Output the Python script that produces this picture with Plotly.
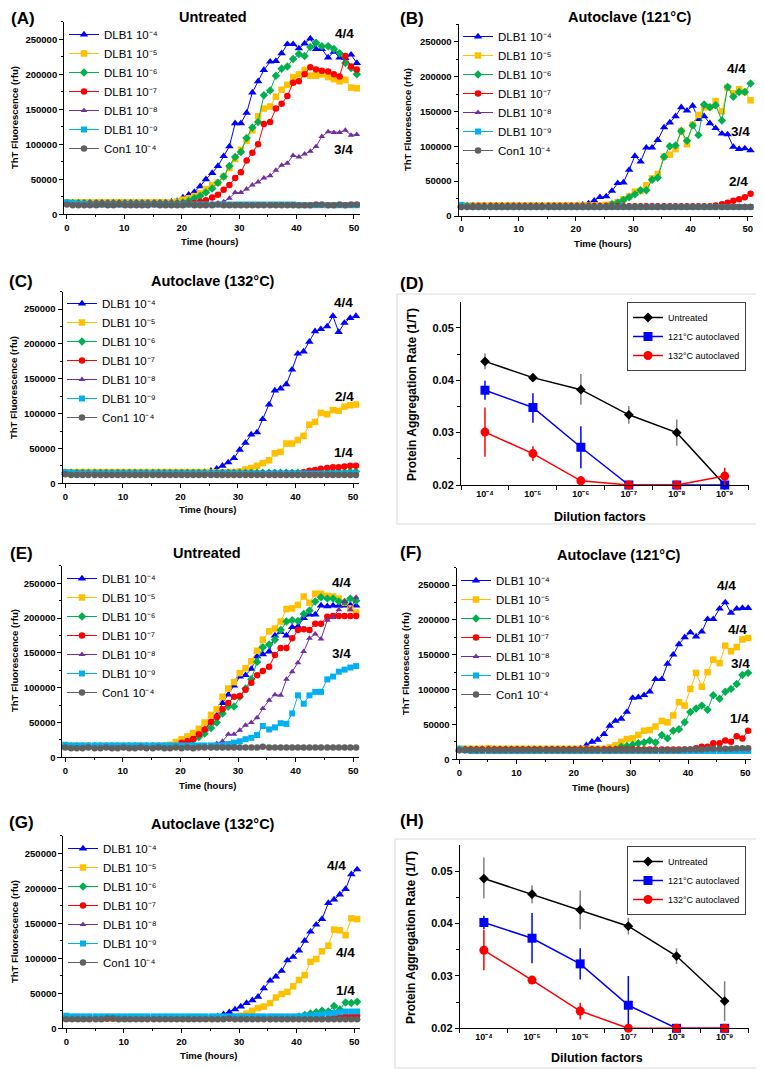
import plotly.graph_objects as go

# The page body adds an 8 px margin, so the figure is made 8 px smaller and
# every position below (given in window pixels) is converted relative to it.
WIN_W, WIN_H = 764, 1069
OFF = 8
W, H = WIN_W - OFF, WIN_H - OFF
FONT = "Liberation Sans, Arial, sans-serif"

# ---------------- data ----------------
TIME_H = [0, 1, 2, 3, 4, 5.1, 6.1, 7.1, 8.1, 9.1,
          10.1, 11.1, 12.1, 13.1, 14.1, 15.2, 16.2, 17.2, 18.2, 19.2,
          20.2, 21.2, 22.2, 23.2, 24.2, 25.3, 26.3, 27.3, 28.3, 29.3,
          30.3, 31.3, 32.3, 33.3, 34.3, 35.4, 36.4, 37.4, 38.4, 39.4,
          40.4, 41.4, 42.4, 43.4, 44.4, 45.5, 46.5, 47.5, 48.5, 49.5,
          50.5]

SERIES_NAMES = ["DLB1 10⁻⁴", "DLB1 10⁻⁵", "DLB1 10⁻⁶", "DLB1 10⁻⁷",
                "DLB1 10⁻⁸", "DLB1 10⁻⁹", "Con1 10⁻⁴"]

# ThT fluorescence values, in thousands of rfu
# ---- (A) Untreated ----
A_B4 = [17,16,16,16,16,16,16,16,16,16, 16,16,16,16,16,16,17,17,18,19,
        24,28,32,40,50,59,69,83,97,130, 130,145,174,190,206,218,219,230,243,243,
        237,244,251,236,236,224,232,224,223,228, 216]
A_B5 = [17,17,17,17,17,17,17,17,17,17, 17,17,17,17,17,17,17,17,17,18,
        21,23,26,30,36,42,45,54,66,79, 92,105,120,140,151,154,168,178,185,196,
        200,206,198,198,200,196,193,190,192,181, 180]
A_B6 = [16,16,16,16,16,16,16,16,16,16, 16,16,16,16,16,16,16,16,16,16,
        17,19,23,26,31,37,45,54,69,82, 89,109,124,132,170,177,198,208,211,222,
        229,226,239,245,240,240,236,230,216,209, 200]
A_B7 = [15,15,15,15,15,15,15,15,15,15, 15,15,15,15,15,15,15,15,15,15,
        15,15,16,18,20,24,28,35,42,52, 60,77,88,100,129,132,151,158,169,188,
        190,200,210,207,205,204,200,197,226,211, 207]
A_B8 = [15,15,15,15,15,15,15,15,15,15, 15,15,15,15,15,15,15,15,15,15,
        15,15,15,15,15,15,16,18,23,31, 31,36,42,46,52,55,63,70,73,84,
        82,86,90,97,111,118,117,117,120,113, 114]
A_B9 = [17,16,15,15,14,14,14,14,14,14, 14,14,14,14,14,14,14,14,14,14,
        14,14,14,14,14,14,14,14,14,14, 14,14,14,14,14,14,14,14,14,14,
        13,13,13,13,13,13,13,13,13,13, 13]
A_CON = [14,13,13,13,13,13,14,13,13,14, 13,13,13,13,13,14,13,13,13,13,
         13,14,13,13,13,13,14,13,13,13, 13,13,13,13,13,13,13,13,13,13,
         13,13,13,14,14,13,13,14,13,14, 14]

# ---- (B) Autoclave 121 C ----
B_B4 = [15,15,15,15,15,15,15,15,15,15, 15,15,15,15,15,15,15,15,15,15,
        15,16,18,22,27,28,36,47,48,66, 86,78,98,98,109,127,134,143,156,151,
        158,139,143,133,126,118,117,99,96,97, 94]
B_B5 = [15,15,15,15,15,15,15,15,15,15, 15,15,15,15,15,15,15,15,15,15,
        15,15,15,15,15,16,17,20,24,28, 35,36,44,54,60,85,88,96,122,103,
        131,145,156,156,165,150,184,176,182,178, 166]
B_B6 = [14,14,14,14,14,14,14,14,14,14, 14,14,14,14,14,14,14,14,14,14,
        14,14,14,14,14,14,17,19,23,27, 31,37,37,52,55,85,100,101,122,108,
        130,116,160,156,159,137,185,171,178,178, 190]
B_B7 = [14,14,14,14,14,14,14,14,14,14, 14,14,14,14,14,14,14,14,14,14,
        14,14,14,14,14,14,14,14,14,14, 14,14,14,14,14,14,14,14,14,14,
        14,14,14,14,15,17,19,22,24,27, 32]
B_B8 = [14,14,14,14,14,14,14,14,14,14, 14,14,14,14,14,14,14,14,14,14,
        14,14,14,14,14,14,14,14,14,14, 14,14,14,14,14,14,14,14,14,14,
        14,14,14,14,14,14,14,14,14,14, 14]
B_B9 = [16,14,13,13,13,13,13,13,13,13, 13,13,13,13,13,13,13,13,13,13,
        13,13,13,13,13,13,13,13,13,13, 13,13,13,13,13,13,13,13,13,13,
        13,13,13,13,13,13,13,13,13,13, 13]
B_CON = [13,13,13,13,13,13,13,13,13,13, 13,13,13,13,13,13,13,13,13,13,
         13,13,13,13,13,13,13,13,13,13, 13,13,13,13,13,13,13,13,13,13,
         13,13,13,13,13,13,13,13,13,13, 13]

# ---- (C) Autoclave 132 C ----
C_B4 = [15,15,15,15,15,15,15,15,15,15, 15,15,15,15,15,15,15,15,15,15,
        15,15,15,15,16,18,21,25,30,36, 48,58,70,73,92,113,133,136,142,163,
        186,189,203,218,221,225,240,217,230,237, 240]
C_B5 = [16,16,16,16,16,16,16,16,16,16, 16,16,16,16,16,16,16,16,16,16,
        16,16,16,16,16,16,16,16,16,16, 17,20,22,25,29,33,43,45,57,57,
        62,68,84,88,101,99,105,104,110,112, 113]
C_B6 = [15,15,15,15,15,15,15,15,15,15, 15,15,15,15,15,15,15,15,15,15,
        15,15,15,15,15,15,15,15,15,15, 15,15,15,15,15,15,15,15,15,15,
        15,15,15,15,15,15,16,16,16,17, 17]
C_B7 = [14,14,14,14,14,14,14,14,14,14, 14,14,14,14,14,14,14,14,14,14,
        14,14,14,14,14,14,14,14,14,14, 14,14,14,14,14,14,14,14,14,14,
        14,16,18,19,21,22,23,23,24,25, 25]
C_B8 = [14,14,14,14,14,14,14,14,14,14, 14,14,14,14,14,14,14,14,14,14,
        14,14,14,14,14,14,14,14,14,14, 14,14,14,14,14,14,14,14,14,14,
        14,14,14,14,14,14,14,14,14,14, 14]
C_B9 = [16,15,14,14,14,14,14,14,14,14, 14,14,14,14,14,14,14,14,14,14,
        14,14,14,14,14,14,14,14,14,14, 14,14,14,14,14,14,14,14,14,14,
        14,14,14,14,14,14,14,14,14,14, 14]
C_CON = [13,12,12,12,12,12,12,12,12,12, 12,12,12,12,12,12,12,12,12,12,
         12,12,12,12,12,12,12,12,12,12, 12,12,12,12,12,12,12,12,12,12,
         12,12,12,12,12,12,12,12,12,12, 12]

# ---- (E) Untreated ----
E_B4 = [16,16,16,16,16,16,16,16,16,16, 16,16,16,16,16,16,16,16,16,16,
        21,24,29,33,40,50,60,78,90,103, 116,118,127,145,148,152,175,180,175,187,
        188,200,205,205,218,217,218,218,218,219, 218]
E_B5 = [16,16,16,16,16,16,16,16,16,16, 16,16,16,16,16,16,16,16,18,22,
        26,30,35,41,50,61,69,87,99,108, 121,128,138,153,169,181,185,195,213,214,
        219,231,222,235,235,232,231,228,222,214, 208]
E_B6 = [16,16,16,16,16,16,16,16,16,16, 16,16,16,16,16,16,16,16,16,16,
        16,21,25,29,34,42,50,63,73,73, 87,99,112,137,158,162,169,183,195,197,
        196,206,211,224,230,228,228,224,223,228, 225]
E_B7 = [15,15,15,15,15,15,15,15,15,15, 15,15,15,15,15,15,15,15,15,15,
        21,23,26,33,40,51,58,69,78,87, 88,97,107,118,124,130,147,157,157,171,
        183,184,183,192,192,202,203,203,203,203, 203]
E_B8 = [14,14,14,14,14,14,14,14,14,14, 14,14,14,14,14,14,14,14,14,14,
        14,14,14,14,14,14,20,23,33,33, 39,46,50,57,70,82,90,89,112,123,
        136,152,171,177,170,197,201,212,224,212, 230]
E_B9 = [18,17,17,17,17,17,17,17,17,17, 17,17,17,17,17,17,17,17,17,17,
        17,17,17,17,17,17,17,17,19,21, 23,26,28,32,45,40,43,49,48,63,
        89,77,89,94,94,112,116,123,126,129, 131]
E_CON = [14,13,13,13,14,13,13,14,13,13, 14,13,13,14,13,13,14,13,13,14,
         13,14,13,14,14,14,14,14,14,14, 14,14,14,14,15,14,14,14,14,14,
         14,14,14,14,14,14,14,14,14,14, 14]

# ---- (F) Autoclave 121 C ----
F_B4 = [14,14,14,14,14,14,14,14,14,14, 14,14,14,14,14,14,14,14,14,14,
        14,16,20,25,28,36,48,55,58,68, 88,89,92,97,115,115,137,150,165,175,
        182,176,183,201,201,216,225,210,216,217, 217]
F_B5 = [15,15,15,15,15,16,15,15,15,15, 15,15,15,15,15,15,15,15,15,15,
        15,15,15,15,15,15,17,20,25,29, 30,35,41,42,47,55,53,63,82,77,
        101,124,104,125,143,138,163,155,161,172, 174]
F_B6 = [14,14,14,14,14,14,14,14,14,14, 14,14,14,14,14,14,14,14,14,14,
        14,14,14,14,14,14,14,14,18,19, 21,23,24,27,24,35,30,41,43,53,
        68,73,77,71,92,87,97,101,108,121, 124]
F_B7 = [14,14,14,14,14,14,14,14,14,14, 14,14,14,14,14,14,14,14,14,14,
        14,14,14,14,14,14,14,14,14,14, 14,14,14,14,14,14,14,14,14,14,
        14,16,18,18,23,23,27,25,33,30, 41]
F_B8 = [13,13,13,13,13,13,13,13,13,13, 13,13,13,13,13,13,13,13,13,13,
        13,13,13,13,13,13,13,13,13,13, 13,13,13,13,13,13,13,13,13,13,
        13,13,13,13,13,13,13,13,13,13, 13]
F_B9 = [15,13,12,12,12,12,12,12,12,12, 12,12,12,12,12,12,12,12,12,12,
        12,12,12,12,12,12,12,12,12,12, 12,12,12,12,12,12,12,12,12,12,
        12,12,12,12,12,12,12,12,12,12, 12]
F_CON = [13,13,13,13,13,13,13,13,13,13, 13,13,13,13,13,13,13,13,13,13,
         13,13,13,13,13,13,13,13,13,13, 13,13,13,13,13,13,13,13,13,14,
         14,14,14,15,15,15,15,15,16,16, 16]

# ---- (G) Autoclave 132 C ----
G_B4 = [16,15,15,15,15,15,15,15,15,15, 15,15,15,15,15,15,15,15,15,15,
        15,15,15,15,15,15,17,20,23,27, 31,36,40,45,57,68,74,82,97,102,
        111,125,138,148,156,179,184,191,199,220, 227]
G_B5 = [14,14,14,14,14,14,14,14,14,14, 14,14,14,14,14,14,14,14,14,14,
        14,14,14,14,14,14,15,15,15,16, 18,21,25,29,31,36,44,49,52,60,
        69,76,95,99,110,118,141,140,133,157, 156]
G_B6 = [15,15,15,15,15,15,15,15,15,15, 15,15,15,15,15,15,15,15,15,15,
        15,15,15,15,15,15,15,15,15,15, 15,15,15,15,15,15,15,15,15,15,
        17,19,21,23,25,24,32,27,37,36, 38]
G_B7 = [14,14,14,14,14,14,14,14,14,14, 14,14,14,14,14,14,14,14,14,14,
        14,14,14,14,14,14,14,14,14,14, 14,14,14,14,14,14,14,14,14,14,
        14,14,14,14,14,14,15,16,17,18, 18]
G_B8 = [14,14,14,14,14,14,14,14,14,14, 14,14,14,14,14,14,14,14,14,14,
        14,14,14,14,14,14,14,14,14,14, 14,14,14,14,14,14,14,14,14,14,
        14,14,14,14,14,14,14,14,14,14, 14]
G_B9 = [18,17,17,17,17,17,17,17,17,17, 17,17,17,17,17,17,17,17,17,17,
        17,17,17,17,17,17,17,17,17,17, 17,17,17,17,17,17,17,17,17,17,
        17,18,18,19,20,21,22,23,24,24, 24]
G_CON = [13,13,13,13,13,13,13,14,14,13, 13,13,13,13,13,13,13,13,13,13,
         13,13,13,13,13,13,13,13,14,13, 13,13,13,13,13,13,13,13,13,13,
         13,13,13,13,13,13,13,13,13,13, 13]

# replicate-positive labels: (text, hour, rfu in thousands)
A_LABELS = [("4/4", 48.4, 258), ("3/4", 48.1, 92)]
B_LABELS = [("4/4", 48.1, 212), ("3/4", 48.7, 121), ("2/4", 48.4, 49)]
C_LABELS = [("4/4", 48.3, 260), ("2/4", 48.6, 124), ("1/4", 48.3, 44)]
E_LABELS = [("4/4", 48.0, 251), ("3/4", 48.0, 149)]
F_LABELS = [("4/4", 46.7, 250), ("4/4", 48.7, 186), ("3/4", 49.2, 138), ("1/4", 49.0, 59)]
G_LABELS = [("4/4", 46.9, 233), ("4/4", 48.4, 109), ("1/4", 48.4, 54)]

# summary panels
DILUTIONS = ["10⁻⁴", "10⁻⁵", "10⁻⁶", "10⁻⁷", "10⁻⁸", "10⁻⁹"]
RATE_NAMES = ["Untreated", "121°C autoclaved", "132°C autoclaved"]
D_UNTREATED = [0.0436, 0.0405, 0.0382, 0.0334, 0.0300, 0.0200]
D_UNTREATED_EP = [0.0015, 0.0007, 0.0030, 0.0017, 0.0025, 0]
D_UNTREATED_EM = [0.0015, 0.0007, 0.0029, 0.0017, 0.0025, 0]
D_121 = [0.0381, 0.0348, 0.0272, 0.0200, 0.0200, 0.0200]
D_121_EP = [0.0018, 0.0027, 0.0040, 0, 0, 0]
D_121_EM = [0.0018, 0.0029, 0.0040, 0, 0, 0]
D_132 = [0.0301, 0.0260, 0.0208, 0.0200, 0.0200, 0.0217]
D_132_EP = [0.0047, 0.0014, 0.0009, 0, 0, 0.0016]
D_132_EM = [0.0047, 0.0014, 0.0008, 0, 0, 0.0017]

H_UNTREATED = [0.0486, 0.0456, 0.0426, 0.0395, 0.0338, 0.0252]
H_UNTREATED_EP = [0.0040, 0.0017, 0.0037, 0.0016, 0.0015, 0.0038]
H_UNTREATED_EM = [0.0038, 0.0017, 0.0037, 0.0016, 0.0015, 0.0038]
H_121 = [0.0402, 0.0372, 0.0323, 0.0244, 0.0200, 0.0200]
H_121_EP = [0.0013, 0.0048, 0.0030, 0.0056, 0, 0]
H_121_EM = [0.0013, 0.0048, 0.0030, 0.0044, 0, 0]
H_132 = [0.0349, 0.0292, 0.0233, 0.0200, 0.0200, 0.0200]
H_132_EP = [0.0039, 0.0003, 0.0016, 0, 0, 0]
H_132_EM = [0.0038, 0.0003, 0.0016, 0, 0, 0]

# ---------------- styles & layout geometry (window pixels) ----------------
TS_STYLE = [("#0000FF", "triangle-up", 7.5), ("#FFC000", "square", 6.5),
            ("#00B050", "diamond", 6.5), ("#FF0000", "circle", 6.5),
            ("#7030A0", "triangle-up", 6), ("#00B0F0", "square", 6),
            ("#606060", "circle", 6.5)]
RATE_STYLE = [("#000000", "diamond", 7.5, "#808080"), ("#0000FF", "square", 9, "#0000FF"),
              ("#FF0000", "circle", 9, "#FF0000")]

# y given as None means: pinned to the very top of the figure
# (number, letter, title, series, labels, plot box l,r,t,b, legend x,y, title xy, xt xy, yt xy, letter xy)
TS_PANELS = [
    (1, "(A)", "Untreated", [A_B4, A_B5, A_B6, A_B7, A_B8, A_B9, A_CON], A_LABELS,
     (64.1, 359.7, 21.8, 214.3), (64, 20), (213, None), (209, 241), (14, 118), (23, None)),
    (2, "(B)", "Autoclave (121°C)", [B_B4, B_B5, B_B6, B_B7, B_B8, B_B9, B_CON], B_LABELS,
     (458.5, 753.4, 24.3, 216.0), (458, 22), (630, None), (602, 243), (407, 120), (412, None)),
    (3, "(C)", "Autoclave (132°C)", [C_B4, C_B5, C_B6, C_B7, C_B8, C_B9, C_CON], C_LABELS,
     (62.5, 358.8, 291.6, 483.3), (62, 289), (213, 281), (207, 510), (14, 388), (21, 281)),
    (5, "(E)", "Untreated", [E_B4, E_B5, E_B6, E_B7, E_B8, E_B9, E_CON], E_LABELS,
     (62.4, 359.0, 565.9, 757.3), (62, 564), (207, 553), (207, 785), (14, 661), (21, 553)),
    (6, "(F)", "Autoclave (121°C)", [F_B4, F_B5, F_B6, F_B7, F_B8, F_B9, F_CON], F_LABELS,
     (456.5, 751.0, 567.6, 759.3), (456, 566), (619, 555), (600, 787), (405, 664), (411, 552)),
    (7, "(G)", "Autoclave (132°C)", [G_B4, G_B5, G_B6, G_B7, G_B8, G_B9, G_CON], G_LABELS,
     (63.4, 360.0, 835.8, 1028.3), (63, 834), (213, 824), (208, 1055), (14, 932), (21, 822)),
]

RATE_PANELS = [
    (4, "(D)", [(D_UNTREATED, D_UNTREATED_EP, D_UNTREATED_EM), (D_121, D_121_EP, D_121_EM),
                (D_132, D_132_EP, D_132_EM)],
     (461.0, 748.7, 301.7, 485.0), (746, 302), (600, 517), (412, 395), (412, 283),
     (397, 762, 294, 524)),
    (8, "(H)", [(H_UNTREATED, H_UNTREATED_EP, H_UNTREATED_EM), (H_121, H_121_EP, H_121_EM),
                (H_132, H_132_EP, H_132_EM)],
     (459.8, 748.7, 845.0, 1028.3), (746, 846), (597, 1058), (411, 937), (412, 820),
     (395, 763, 839, 1068)),
]


def px(xp):
    return (xp - OFF) / W


def py(yp):
    return 1 - (yp - OFF) / H


def axname(n):
    return "" if n == 1 else str(n)


fig = go.Figure()
layout = dict(width=W, height=H,
              margin=dict(l=0, r=0, t=0, b=0, pad=0, autoexpand=False),
              paper_bgcolor="white", plot_bgcolor="white", showlegend=True,
              font=dict(family=FONT, color="black"))
annotations = []
shapes = []

BLACK_AXIS = dict(showline=True, linecolor="black", linewidth=1, showgrid=False,
                  zeroline=False, ticks="outside", tickcolor="black", tickwidth=1,
                  automargin=False)


def text_ann(txt, xp, yp, size, bold=True, angle=0):
    if yp is None:
        yv, yanc = 1.0, "top"
    else:
        yv, yanc = py(yp), "middle"
    annotations.append(dict(text=txt, x=px(xp), y=yv, xref="paper", yref="paper",
                            showarrow=False, xanchor="center", yanchor=yanc,
                            textangle=angle, borderpad=0,
                            font=dict(family=FONT, size=size, color="black",
                                      weight="bold" if bold else "normal")))


for (n, letter, title, series, labels, box, leg, tpos, xtpos, ytpos, lpos) in TS_PANELS:
    s = axname(n)
    l, r, t, b = box
    legname = "legend" + ("" if n == 1 else str(n))
    for name, vals, (col, sym, size) in zip(SERIES_NAMES, series, TS_STYLE):
        fig.add_trace(go.Scatter(
            x=TIME_H[:len(vals)], y=[v * 1000 for v in vals], name=name,
            mode="lines+markers", xaxis="x" + s, yaxis="y" + s, legend=legname,
            line=dict(color=col, width=1),
            marker=dict(color=col, symbol=sym, size=size, line=dict(width=0)),
            cliponaxis=False))
    layout["xaxis" + s] = dict(BLACK_AXIS, domain=[px(l), px(r)], anchor="y" + s,
                               range=[-0.5, 51], tick0=0, dtick=10, ticklen=4,
                               tickfont=dict(family=FONT, size=9.5, weight="bold"),
                               minor=dict(dtick=5, ticks="outside", ticklen=2,
                                          tickcolor="black", showgrid=False))
    layout["yaxis" + s] = dict(BLACK_AXIS, domain=[py(b), py(t)], anchor="x" + s,
                               range=[0, 275000], tick0=0, dtick=50000, tickformat="d",
                               ticklen=4,
                               tickfont=dict(family=FONT, size=9.5, weight="bold"),
                               minor=dict(dtick=25000, ticks="outside", ticklen=2,
                                          tickcolor="black", showgrid=False))
    layout[legname] = dict(x=px(leg[0]), y=py(leg[1]), xanchor="left", yanchor="top",
                           bgcolor="rgba(0,0,0,0)", itemwidth=30, tracegroupgap=0,
                           font=dict(family=FONT, size=11.5, color="black"))
    for (txt, hx, vy) in labels:
        annotations.append(dict(text=txt, x=hx, y=vy * 1000, xref="x" + s, yref="y" + s,
                                showarrow=False,
                                font=dict(family=FONT, size=13.5, weight="bold",
                                          color="black")))
    text_ann(title, tpos[0], tpos[1], 14.5)
    text_ann("Time (hours)", xtpos[0], xtpos[1], 9.5)
    text_ann("ThT Fluorescence (rfu)", ytpos[0], ytpos[1], 9.5, angle=-90)
    text_ann(letter, lpos[0], lpos[1], 17)

for (n, letter, groups, box, leg, xtpos, ytpos, lpos, frame) in RATE_PANELS:
    s = axname(n)
    l, r, t, b = box
    legname = "legend" + str(n)
    for name, (vals, ep, em), (col, sym, size, ecol) in zip(RATE_NAMES, groups, RATE_STYLE):
        fig.add_trace(go.Scatter(
            x=DILUTIONS, y=vals, name=name, mode="lines+markers",
            xaxis="x" + s, yaxis="y" + s, legend=legname,
            line=dict(color=col, width=1.5),
            marker=dict(color=col, symbol=sym, size=size, line=dict(width=0)),
            error_y=dict(type="data", symmetric=False, array=ep, arrayminus=em,
                         color=ecol, thickness=1.5, width=0),
            cliponaxis=False))
    layout["xaxis" + s] = dict(BLACK_AXIS, domain=[px(l), px(r)], anchor="y" + s,
                               type="category", range=[-0.5, 5.5], tickson="boundaries",
                               ticklen=4,
                               tickfont=dict(family=FONT, size=9, weight="bold"))
    layout["yaxis" + s] = dict(BLACK_AXIS, domain=[py(b), py(t)], anchor="x" + s,
                               range=[0.02, 0.055], tickvals=[0.02, 0.03, 0.04, 0.05],
                               tickformat=".2f", ticklen=4,
                               tickfont=dict(family=FONT, size=11, weight="bold"),
                               minor=dict(tickvals=[0.025, 0.035, 0.045], ticks="outside",
                                          ticklen=3, tickcolor="black", showgrid=False))
    layout[legname] = dict(x=px(leg[0]), y=py(leg[1]), xanchor="right", yanchor="top",
                           bgcolor="white", bordercolor="#404040", borderwidth=1,
                           itemwidth=30, tracegroupgap=0,
                           font=dict(family=FONT, size=9, color="black"))
    shapes.append(dict(type="rect", xref="paper", yref="paper",
                       x0=px(frame[0]), x1=px(frame[1]), y0=py(frame[3]), y1=py(frame[2]),
                       line=dict(color="#d9d9d9", width=1), layer="below"))
    text_ann("Dilution factors", xtpos[0], xtpos[1], 12.5)
    text_ann("Protein Aggregation Rate (1/T)", ytpos[0], ytpos[1], 12, angle=-90)
    text_ann(letter, lpos[0], lpos[1], 17)

layout["annotations"] = annotations
layout["shapes"] = shapes
fig.update_layout(**layout)
fig.write_html("out.html")
